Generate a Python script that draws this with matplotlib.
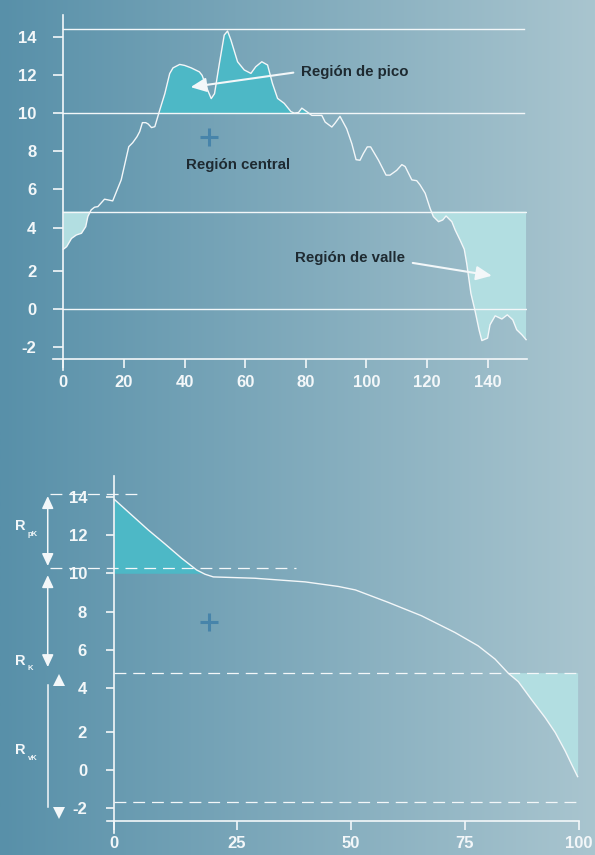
import numpy as np
import matplotlib.pyplot as plt
from matplotlib.colors import LinearSegmentedColormap

plt.rcParams['font.family'] = ['Liberation Sans', 'DejaVu Sans']
plt.rcParams['font.weight'] = 'bold'
plt.rcParams['axes.unicode_minus'] = False

# Perfil de rugosidad (gráfico superior)
perfil_x = [0, 1.1, 2.7, 4.3, 6.0, 7.4, 8.1, 9.2, 10.3, 11.4, 13.6, 16.3, 19.1, 21.6, 22.9,
            24.3, 25.2, 26.1, 27.2, 28.0, 29.1, 30.2, 31.8, 33.5, 35.1, 36.2, 38.4, 40.0, 42.2,
            44.9, 45.8, 47.2, 48.8, 49.9, 51.5, 53.1, 54.2, 55.3, 57.5, 59.7, 61.9, 63.5, 65.5,
            67.4, 69.0, 70.7, 72.9, 75.1, 76.2, 77.6, 78.7, 80.3, 82.0, 85.3, 86.4, 88.6, 89.7,
            91.3, 93.5, 95.2, 96.6, 97.9, 99.0, 100.3, 101.4, 104.0, 106.5, 107.8, 110.0, 111.7,
            112.8, 115.0, 116.6, 117.7, 119.4, 121.0, 122.1, 123.8, 125.2, 126.3, 128.2, 129.3,
            130.9, 132.3, 133.1, 134.5, 135.9, 137.2, 138.1, 140.0, 140.8, 142.5, 144.7, 146.5,
            148.3, 149.6, 151.3, 152.7]
perfil_y = [3.0, 3.12, 3.5, 3.66, 3.74, 4.05, 4.58, 4.93, 5.07, 5.1, 5.49, 5.4, 6.5, 8.24, 8.45,
            8.76, 9.03, 9.5, 9.5, 9.43, 9.24, 9.29, 10.15, 11.02, 12.07, 12.37, 12.55, 12.5, 12.37,
            12.16, 11.98, 11.37, 10.76, 11.02, 12.6, 14.09, 14.3, 13.83, 12.69, 12.26, 12.08, 12.43,
            12.69, 12.52, 11.56, 10.77, 10.51, 10.08, 10.0, 10.03, 10.26, 10.08, 9.88, 9.88, 9.53,
            9.27, 9.48, 9.83, 9.18, 8.4, 7.56, 7.53, 7.88, 8.23, 8.23, 7.53, 6.75, 6.75, 7.0, 7.3,
            7.2, 6.5, 6.46, 6.24, 5.8, 5.02, 4.58, 4.31, 4.4, 4.61, 4.31, 3.89, 3.43, 3.0, 2.35,
            0.82, -0.12, -1.1, -1.65, -1.52, -0.82, -0.35, -0.52, -0.3, -0.56, -1.08, -1.34, -1.6]
niveles_sup = [14.42, 10.0, 4.84, 0.0]   # máximo, pico, valle, cero
nivel_pico = 10.0
nivel_valle = 4.84
ticks_x_sup = [0, 20, 40, 60, 80, 100, 120, 140]
ticks_y = [-2, 0, 2, 4, 6, 8, 10, 12, 14]

# Curva de Abbott-Firestone (gráfico inferior)
abbott_x = [0, 3.55, 6.94, 10.36, 13.77, 16.83, 18.53, 20.22, 29.0, 40.0, 47.3, 51.0, 58.2,
            65.5, 72.8, 77.9, 81.6, 84.5, 86.7, 89.6, 92.6, 94.8, 97.0, 98.4, 99.7]
abbott_y = [13.86, 13.04, 12.26, 11.53, 10.78, 10.17, 9.95, 9.81, 9.74, 9.55, 9.31, 9.13, 8.48,
            7.78, 6.91, 6.21, 5.52, 4.78, 4.34, 3.47, 2.64, 1.95, 0.98, 0.28, -0.35]
niveles_inf = [14.14, 10.26, 4.81, -1.68]
abbott_pico = 10.0
abbott_valle = 4.81
ticks_x_inf = [0, 25, 50, 75, 100]

BLANCO = '#f3f7f9'
TEXTO = '#1e2a31'
PICO = '#4db8c6'
VALLE = '#b2dee1'
CRUZ = '#4784aa'


# escalas por tramos del eje vertical y del eje porcentual
def y_fwd(v):
    return np.interp(v, [-100, 2, 4, 100], [-100.27, 1.73, 4, 100])


def y_inv(p):
    return np.interp(p, [-100.27, 1.73, 4, 100], [-100, 2, 4, 100])


def x_fwd(v):
    return np.interp(v, [-100, 0, 25, 200], [-109.09, -1.82, 25, 200])


def x_inv(p):
    return np.interp(p, [-109.09, -1.82, 25, 200], [-100, 0, 25, 200])


W, H = 595, 855
fig = plt.figure(figsize=(W / 100, H / 100), dpi=100)

fondo = fig.add_axes([0, 0, 1, 1])
cmap = LinearSegmentedColormap.from_list('fondo', ['#5890a9', '#a9c5cf'])
fondo.imshow(np.linspace(0, 1, 256).reshape(1, -1), cmap=cmap, aspect='auto',
             extent=[0, 1, 0, 1])
fondo.axis('off')


def caja(x0, y0, x1, y1):
    return [x0 / W, 1 - y1 / H, (x1 - x0) / W, (y1 - y0) / H]


def estilo(ax, y_spine, ylen, xlen, ypad, xpad):
    ax.patch.set_alpha(0)
    ax.spines['top'].set_visible(False)
    ax.spines['right'].set_visible(False)
    ax.spines['left'].set_position(('data', 0))
    ax.spines['bottom'].set_position(('data', y_spine))
    for s in ['left', 'bottom']:
        ax.spines[s].set_color(BLANCO)
        ax.spines[s].set_linewidth(1.2)
    ax.tick_params(axis='y', length=ylen, width=1.2, color=BLANCO, pad=ypad,
                   labelcolor=BLANCO, labelsize=12)
    ax.tick_params(axis='x', length=xlen, width=1.2, color=BLANCO, pad=xpad,
                   labelcolor=BLANCO, labelsize=12)
    ax.tick_params(which='minor', length=0)
    for lab in ax.get_xticklabels() + ax.get_yticklabels():
        lab.set_fontweight('bold')


# ---- gráfico superior: perfil ----
ax1 = fig.add_axes(caja(52.7, 15, 527.3, 370))
ax1.set_yscale('function', functions=(y_fwd, y_inv))
ax1.set_xlim(-3.5, 153.1)
ax1.set_ylim(-3.19, 15.14)
ax1.set_xticks(ticks_x_sup)
ax1.set_yticks(ticks_y)
estilo(ax1, -2.63, 7.2, 6.5, 12.2, 4.6)

px = np.array(perfil_x)
py = np.array(perfil_y)
ax1.fill_between(px, py, nivel_pico, where=py >= nivel_pico, interpolate=True,
                 color=PICO, lw=0, zorder=1)
ax1.fill_between(px, py, nivel_valle, where=py <= nivel_valle, interpolate=True,
                 color=VALLE, lw=0, zorder=1)
ax1.plot([0, 151.9], [niveles_sup[0]] * 2, color=BLANCO, lw=1.0, zorder=2)
ax1.plot([0, 151.9], [niveles_sup[1]] * 2, color=BLANCO, lw=1.0, zorder=2)
ax1.plot([0, 153.1], [niveles_sup[2]] * 2, color=BLANCO, lw=1.0, zorder=2)
ax1.plot([0, 153.1], [niveles_sup[3]] * 2, color=BLANCO, lw=1.0, zorder=2)
ax1.plot(px, py, color=BLANCO, lw=1.0, zorder=3)
ax1.plot(48.1, 8.76, marker='+', ms=13, mew=2.2, color=CRUZ, zorder=4)

flecha = dict(arrowstyle='-|>,head_length=0.95,head_width=0.43', color=BLANCO, lw=1.5,
              shrinkA=0, shrinkB=0, mutation_scale=10)
ax1.text(78.3, 12.16, 'Región de pico', color=TEXTO, fontsize=10.8, fontweight='bold',
         ha='left', va='center')
ax1.annotate('', xy=(42.0, 11.36), xytext=(75.9, 12.12), arrowprops=flecha, zorder=5)
ax1.text(57.6, 7.27, 'Región central', color=TEXTO, fontsize=10.8, fontweight='bold',
         ha='center', va='center')
ax1.text(76.5, 2.58, 'Región de valle', color=TEXTO, fontsize=10.8, fontweight='bold',
         ha='left', va='center')
ax1.annotate('', xy=(141.4, 1.75), xytext=(115.3, 2.37), arrowprops=flecha, zorder=5)

# ---- gráfico inferior: curva de Abbott-Firestone ----
ax2 = fig.add_axes(caja(106.7, 476, 579, 833.3))
ax2.set_yscale('function', functions=(y_fwd, y_inv))
ax2.set_xscale('function', functions=(x_fwd, x_inv))
ax2.set_xlim(-1.555, 100)
ax2.set_ylim(-3.31, 15.08)
ax2.set_xticks(ticks_x_inf)
ax2.set_yticks(ticks_y)
estilo(ax2, -2.65, 5.8, 6.7, 13.8, 4.4)

ax_ = np.array(abbott_x)
ay_ = np.array(abbott_y)
ax2.fill_between(ax_, ay_, abbott_pico, where=ay_ >= abbott_pico, interpolate=True,
                 color=PICO, lw=0, zorder=1)
ax2.fill_between(ax_, ay_, abbott_valle, where=ay_ <= abbott_valle, interpolate=True,
                 color=VALLE, lw=0, zorder=1)
ax2.plot(ax_, ay_, color=BLANCO, lw=1.0, zorder=3)

guion = dict(color=BLANCO, lw=0.9, dashes=(9.5, 5.5), clip_on=False, zorder=6)
ax2.plot([-13.1, 5.25], [niveles_inf[0]] * 2, **guion)
ax2.plot([-13.1, 38.0], [niveles_inf[1]] * 2, **guion)
ax2.plot([0, 99.7], [niveles_inf[2]] * 2, **guion)
ax2.plot([0, 99.7], [niveles_inf[3]] * 2, **guion)
ax2.plot(19.3, 7.43, marker='+', ms=13, mew=2.2, color=CRUZ, zorder=4)

doble = dict(arrowstyle='<|-|>,head_length=0.75,head_width=0.35', color=BLANCO, lw=1.1,
             shrinkA=0, shrinkB=0, mutation_scale=10)
ax2.annotate('', xy=(-13.6, 14.03), xytext=(-13.6, 10.38), arrowprops=doble,
             annotation_clip=False)
ax2.annotate('', xy=(-13.6, 9.9), xytext=(-13.6, 5.1), arrowprops=doble,
             annotation_clip=False)
ax2.plot([-13.6, -13.6], [4.17, -1.93], color=BLANCO, lw=1.1, clip_on=False)
ax2.plot(-11.4, 4.43, marker='^', ms=8, color=BLANCO, mew=0, clip_on=False)
ax2.plot(-11.4, -2.25, marker='v', ms=8, color=BLANCO, mew=0, clip_on=False)

# etiquetas R con subíndice a la izquierda del eje
for y_r, y_sub, sub in [(12.48, 12.0, 'pK'), (5.44, 5.02, 'K'), (1.04, 0.58, 'vK')]:
    ax2.text(-20.3, y_r, 'R', color=BLANCO, fontsize=10.5, fontweight='bold',
             ha='left', va='center')
    ax2.text(-17.7, y_sub, sub, color=BLANCO, fontsize=5.5, fontweight='bold',
             ha='left', va='center')

fig.savefig('out.png', dpi=100)
